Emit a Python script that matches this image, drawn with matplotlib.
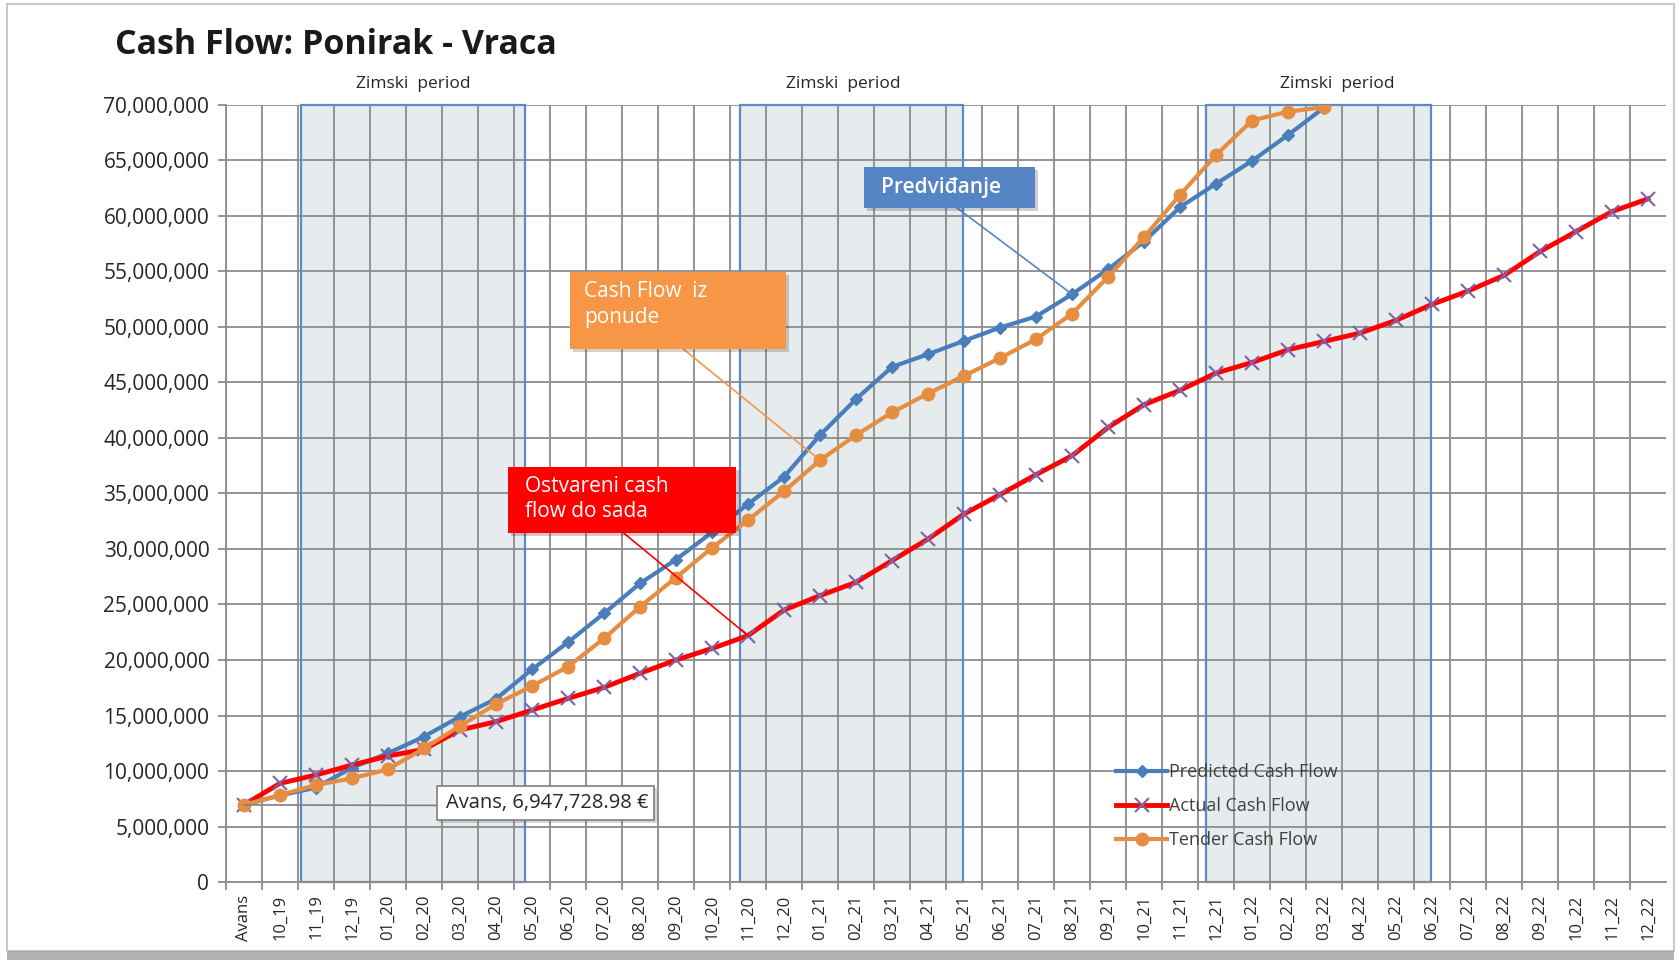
import numpy as np
import matplotlib.pyplot as plt
import matplotlib.patheffects as pe
from matplotlib.patches import Rectangle
from matplotlib.ticker import FuncFormatter, FixedLocator, MultipleLocator
from matplotlib.transforms import blended_transform_factory

plt.rcParams['font.family'] = ['Open Sans', 'DejaVu Sans']

# mjeseci (kategorije na x osi)
months = ['Avans', '10_19', '11_19', '12_19', '01_20', '02_20', '03_20', '04_20',
          '05_20', '06_20', '07_20', '08_20', '09_20', '10_20', '11_20', '12_20',
          '01_21', '02_21', '03_21', '04_21', '05_21', '06_21', '07_21', '08_21',
          '09_21', '10_21', '11_21', '12_21', '01_22', '02_22', '03_22', '04_22',
          '05_22', '06_22', '07_22', '08_22', '09_22', '10_22', '11_22', '12_22']

avans = 6947728.98

# vrijednosti u milionima (ocitano sa grafika)
predicted_m = [6.947729, 7.8, 8.5, 10.3, 11.6, 13.1, 14.9, 16.5, 19.15, 21.6,
               24.2, 26.9, 29.05, 31.5, 34.05, 36.5, 40.26, 43.5, 46.4, 47.55,
               48.75, 49.95, 50.94, 52.95, 55.2, 57.7, 60.8, 62.9, 64.96, 67.3,
               69.76]
actual_m = [6.947729, 8.89, 9.64, 10.54, 11.35, 11.95, 13.7, 14.44, 15.49, 16.54,
            17.53, 18.8, 20.0, 21.04, 22.2, 24.5, 25.8, 27.0, 28.95, 30.9,
            33.15, 34.9, 36.7, 38.4, 40.95, 43.0, 44.3, 45.85, 46.8, 47.95,
            48.7, 49.45, 50.6, 52.04, 53.24, 54.65, 56.8, 58.6, 60.4, 61.55]
tender_m = [6.947729, 7.84, 8.74, 9.34, 10.15, 12.04, 14.05, 16.03, 17.65, 19.4,
            21.94, 24.8, 27.43, 30.1, 32.6, 35.2, 38.0, 40.26, 42.3, 44.0,
            45.6, 47.2, 48.9, 51.2, 54.5, 58.1, 61.9, 65.5, 68.6, 69.4,
            69.8]

# zimski periodi (pocetak, kraj) u indeksima kategorija, i pozicija natpisa
winters = [(1.58, 7.81), (13.78, 19.97), (26.71, 32.98)]
winter_label_x = [4.69, 16.66, 30.38]

predicted = np.array(predicted_m) * 1e6
actual = np.array(actual_m) * 1e6
tender = np.array(tender_m) * 1e6

c_blue = '#4A7EBB'
c_red = '#FF0000'
c_orange = '#E58D40'
c_purple = '#7E62A6'
c_grid = '#8C8C8C'

fig = plt.figure(figsize=(16.79, 9.63), dpi=100)
ax = fig.add_axes([0.1346, 0.0841, 0.8577, 0.8069])

# okvir slike sa sjenkom na dnu
fig.patches.append(Rectangle((0.004, 0.012), 0.993, 0.984, transform=fig.transFigure,
                             facecolor='none', edgecolor='#C9C9C9', lw=1.5))
fig.patches.append(Rectangle((0.004, 0.003), 0.993, 0.009, transform=fig.transFigure,
                             facecolor='#A0A0A0', edgecolor='none', alpha=0.8))

ax.set_xlim(-0.5, 39.5)
ax.set_ylim(0, 70e6)

# zimski periodi
trans = blended_transform_factory(ax.transData, ax.transAxes)
for (x0, x1), lx in zip(winters, winter_label_x):
    ax.add_patch(Rectangle((x0, 0), x1 - x0, 70e6, facecolor='#E6EBEE',
                           edgecolor='none', zorder=0.5))
    ax.add_patch(Rectangle((x0, 0), x1 - x0, 70e6, facecolor='none',
                           edgecolor='#5B8AC6', lw=1.6, zorder=1.5, clip_on=False))
    ax.text(lx, 1.027, 'Zimski  period', transform=trans, ha='center', va='center',
            fontsize=12.5, color='#262626')

# mreza
ax.xaxis.set_major_locator(FixedLocator(range(len(months))))
ax.xaxis.set_minor_locator(FixedLocator(np.arange(-0.5, 39, 1)))
ax.yaxis.set_major_locator(MultipleLocator(5e6))
ax.grid(which='minor', axis='x', color=c_grid, lw=1.3, zorder=1)
ax.grid(which='major', axis='y', color=c_grid, lw=1.3, zorder=1)
ax.set_axisbelow(True)
for s in ['top', 'right']:
    ax.spines[s].set_visible(False)
for s in ['left', 'bottom']:
    ax.spines[s].set_color(c_grid)
    ax.spines[s].set_linewidth(1.3)

ax.set_xticks(range(len(months)))
ax.set_xticklabels(months, rotation=90, fontsize=12, color='#262626')
ax.tick_params(axis='x', which='major', length=0, pad=9)
ax.tick_params(axis='x', which='minor', length=6, color=c_grid, width=1.3)
ax.tick_params(axis='y', length=6, color=c_grid, width=1.3, labelsize=15,
               labelcolor='#262626', pad=6)
ax.yaxis.set_major_formatter(FuncFormatter(lambda v, p: f'{v:,.0f}'))

# serije
ax.plot(range(len(predicted)), predicted, color=c_blue, lw=3, marker='D',
        markersize=6, label='Predicted Cash Flow', zorder=3)
ax.plot(range(len(actual)), actual, color=c_red, lw=3.5, marker='x',
        markersize=10, markeredgecolor=c_purple, markeredgewidth=1.5,
        label='Actual Cash Flow', zorder=3)
ax.plot(range(len(tender)), tender, color=c_orange, lw=3, marker='o',
        markersize=9, label='Tender Cash Flow', zorder=4)

leg = ax.legend(loc='upper left', bbox_to_anchor=(0.612, 0.165), frameon=False,
                fontsize=13, handlelength=2.8, handletextpad=0.1,
                labelspacing=0.9, borderpad=0)
for t in leg.get_texts():
    t.set_color('#404040')

# oblacici sa tekstom
shadow = [pe.SimplePatchShadow(offset=(2, -2), alpha=0.22), pe.Normal()]


def callout(x0, x1, y0, y1, color, text, tx, ty, target, line_from, edge='none',
            tcolor='white', weight='normal', size=15):
    box = Rectangle((x0, y0), x1 - x0, y1 - y0, facecolor=color, edgecolor=edge,
                    lw=1.2, zorder=6)
    box.set_path_effects(shadow)
    ax.add_patch(box)
    ax.plot([line_from[0], target[0]], [line_from[1], target[1]],
            color=color if edge == 'none' else '#7F7F7F', lw=1.2, zorder=5)
    ax.text(tx, ty, text, ha='left', va='center', fontsize=size,
            color=tcolor, weight=weight, zorder=7, linespacing=1.3)


callout(17.23, 21.98, 60.74e6, 64.4e6, '#5585C5', 'Predviđanje', 17.7, 62.6e6,
        (23, predicted[23]), (19.8, 60.74e6), weight='semibold')
callout(9.06, 15.06, 48.02e6, 54.96e6, '#F79646', 'Cash Flow  iz\nponude', 9.45, 52.0e6,
        (16, tender[16]), (12.2, 48.02e6))
callout(7.34, 13.66, 31.43e6, 37.41e6, '#FF0000', 'Ostvareni cash\nflow do sada', 7.8,
        34.5e6, (14, actual[14]), (10.55, 31.43e6))
callout(5.35, 11.4, 5.59e6, 8.68e6, 'white', f'Avans, {avans:,.2f} €', 5.6, 7.15e6,
        (0, avans), (5.35, 6.9e6), edge='#7F7F7F', tcolor='#262626', size=14.5)

fig.text(0.0682, 0.953, 'Cash Flow: Ponirak - Vraca', fontsize=24.5, weight='bold',
         ha='left', va='center', color='#1A1A1A')

fig.savefig('out.png', dpi=100)
